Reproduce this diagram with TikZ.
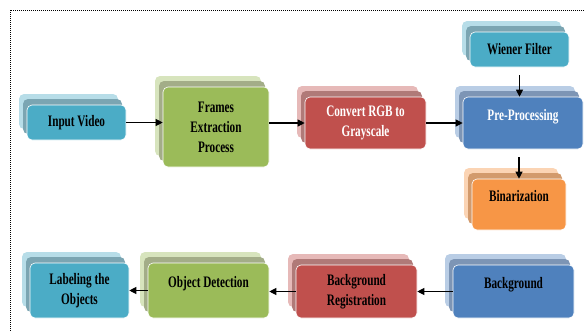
\documentclass[tikz,border=0pt]{standalone}
\usepackage{fontspec}
\setmainfont{Liberation Serif}[FakeStretch=0.7]
\usepackage{xcolor}
\usetikzlibrary{arrows.meta,positioning,shadows}

\definecolor{aquafront}{HTML}{4BACC6}
\definecolor{aquamid}{HTML}{7BA5B2}
\definecolor{aquafar}{HTML}{B7DDE8}
\definecolor{greenfront}{HTML}{9BBB59}
\definecolor{greenmid}{HTML}{A3AD88}
\definecolor{greenfar}{HTML}{D7E4BD}
\definecolor{redfront}{HTML}{C0504D}
\definecolor{redmid}{HTML}{B07A78}
\definecolor{redfar}{HTML}{E6B9B8}
\definecolor{bluefront}{HTML}{4F81BD}
\definecolor{bluemid}{HTML}{7D95B5}
\definecolor{bluefar}{HTML}{B9CDE5}
\definecolor{orangefront}{HTML}{F79646}
\definecolor{orangemid}{HTML}{D29A6C}
\definecolor{orangefar}{HTML}{FBD4B4}

\begin{document}
\begin{tikzpicture}[
  x=1pt, y=-1pt,
  >=Triangle,
  procbox/.style={
    rounded corners=5pt, align=center, inner sep=2pt,
    draw=white, line width=0.6pt,
    font=\fontsize{16}{20}\selectfont\bfseries
  },
  stack/.style={
    fill=#1front,
    general shadow={shadow xshift=-8pt, shadow yshift=11pt, fill=#1far, draw=none},
    general shadow={shadow xshift=-4pt, shadow yshift=6pt, fill=#1mid, draw=none}
  },
  raised/.style={text depth=17pt},
  flow/.style={
    -{Triangle[length=7pt,width=7pt]}, line width=1.1pt, black
  }
]

\useasboundingbox (0,0) rectangle (584,330);

% Dotted frame (runs off the right and bottom edges)
\draw[densely dotted, line width=1pt] (10,10) rectangle (600,345);

% ===== Top row =====
\node[procbox, stack=aqua, minimum width=99pt, minimum height=35pt]
  (video) at (76.5,122.5) {Input Video};
\node[procbox, stack=green, minimum width=106pt, minimum height=80pt]
  (frames) at (216,127) {Frames\\Extraction\\Process};
\node[procbox, stack=red, text=white, minimum width=121pt, minimum height=52pt]
  (convert) at (365.5,123) {Convert RGB to\\Grayscale};
\node[procbox, stack=blue, text=white, raised, minimum width=120pt, minimum height=52pt]
  (pre) at (523,123) {Pre-Processing};

% ===== Side steps of pre-processing =====
\node[procbox, stack=aqua, minimum width=99pt, minimum height=35pt]
  (wiener) at (519.5,49.5) {Wiener Filter};
\node[procbox, stack=orange, raised, minimum width=94pt, minimum height=51pt]
  (binar) at (519,204.5) {Binarization};

% ===== Bottom row =====
\node[procbox, stack=blue, raised, minimum width=121pt, minimum height=53pt]
  (bg) at (513.5,291.5) {Background};
\node[procbox, stack=red, minimum width=121pt, minimum height=53pt]
  (bgreg) at (356.5,291.5) {Background\\Registration};
\node[procbox, stack=green, raised, minimum width=121pt, minimum height=55pt]
  (objdet) at (208.5,290.5) {Object Detection};
\node[procbox, stack=aqua, minimum width=99pt, minimum height=55pt]
  (labeling) at (79.5,290.5) {Labeling the\\Objects};

% Flow arrows
\draw[flow] (video.east) -- (video.east -| frames.west);
\draw[flow] (frames.east |- convert.west) -- (convert.west);
\draw[flow] (convert) -- (pre);
\draw[flow, shorten <=8pt] (wiener) -- (wiener |- pre.north);
\draw[flow, shorten <=8pt] (pre.south -| binar) -- (binar.north);
\draw[flow] (bg) -- (bgreg);
\draw[flow] (bgreg.west) -- (bgreg.west -| objdet.east);
\draw[flow] (objdet) -- (labeling);

\end{tikzpicture}
\end{document}
